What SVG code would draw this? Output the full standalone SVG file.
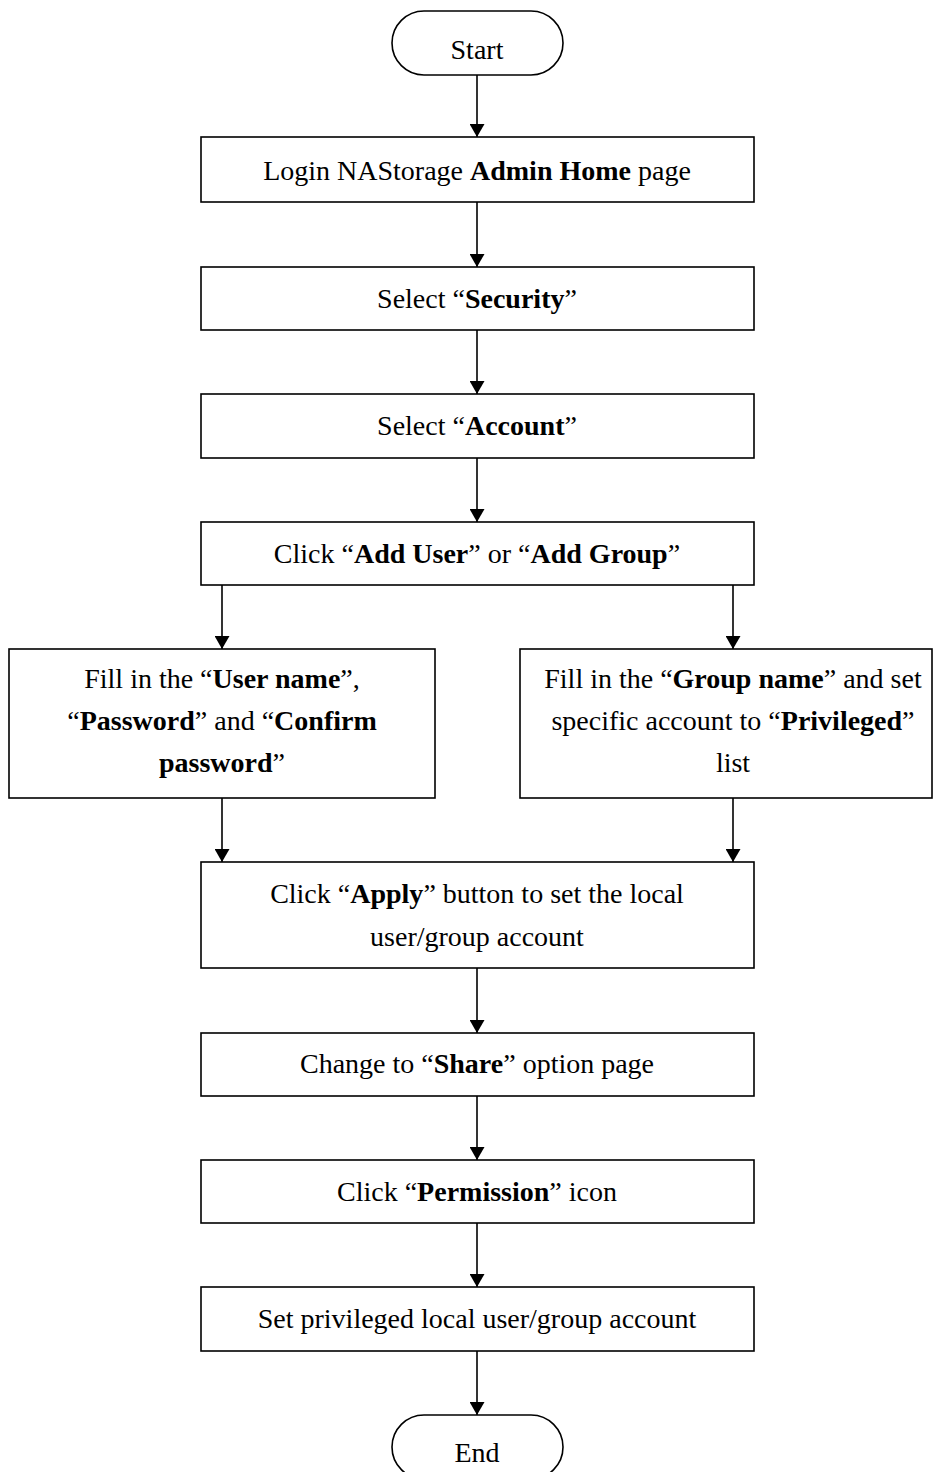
<svg xmlns="http://www.w3.org/2000/svg" width="933" height="1472" viewBox="0 0 933 1472">
  <style>
    .box { fill: #fff; stroke: #000; stroke-width: 1.6; }
    .txt { font-family: "Liberation Serif", "Times New Roman", serif; font-size: 28px; fill: #000; text-anchor: middle; }
    .b { font-weight: bold; }
    .conn { stroke: #000; stroke-width: 1.6; fill: none; marker-end: url(#arrow); }
  </style>
  <defs>
    <marker id="arrow" markerWidth="13" markerHeight="15" refX="13" refY="7.5" orient="auto" markerUnits="userSpaceOnUse" viewBox="0 0 13 15">
      <path d="M0,0 L13,7.5 L0,15 Z" fill="#000"/>
    </marker>
  </defs>
  <rect width="933" height="1472" fill="#fff"/>

  <g id="connectors">
    <line class="conn" x1="477" y1="75" x2="477" y2="137"/>
    <line class="conn" x1="477" y1="202" x2="477" y2="267"/>
    <line class="conn" x1="477" y1="330" x2="477" y2="394"/>
    <line class="conn" x1="477" y1="458" x2="477" y2="522"/>
    <line class="conn" x1="222" y1="585" x2="222" y2="649"/>
    <line class="conn" x1="733" y1="585" x2="733" y2="649"/>
    <line class="conn" x1="222" y1="798" x2="222" y2="862"/>
    <line class="conn" x1="733" y1="798" x2="733" y2="862"/>
    <line class="conn" x1="477" y1="968" x2="477" y2="1033"/>
    <line class="conn" x1="477" y1="1096" x2="477" y2="1160"/>
    <line class="conn" x1="477" y1="1223" x2="477" y2="1287"/>
    <line class="conn" x1="477" y1="1351" x2="477" y2="1415"/>
  </g>

  <g id="start">
    <rect class="box" x="392" y="11" width="171" height="64" rx="32" ry="32"/>
    <text class="txt" x="477" y="59">Start</text>
  </g>

  <g id="login">
    <rect class="box" x="201" y="137" width="553" height="65"/>
    <text class="txt" x="477" y="180">Login NAStorage <tspan class="b">Admin Home</tspan> page</text>
  </g>

  <g id="security">
    <rect class="box" x="201" y="267" width="553" height="63"/>
    <text class="txt" x="477" y="308">Select “<tspan class="b">Security</tspan>”</text>
  </g>

  <g id="account">
    <rect class="box" x="201" y="394" width="553" height="64"/>
    <text class="txt" x="477" y="435">Select “<tspan class="b">Account</tspan>”</text>
  </g>

  <g id="add">
    <rect class="box" x="201" y="522" width="553" height="63"/>
    <text class="txt" x="477" y="563">Click “<tspan class="b">Add User</tspan>” or “<tspan class="b">Add Group</tspan>”</text>
  </g>

  <g id="user-fill">
    <rect class="box" x="9" y="649" width="426" height="149"/>
    <text class="txt" x="222" y="688">Fill in the “<tspan class="b">User name</tspan>”,</text>
    <text class="txt" x="222" y="730">“<tspan class="b">Password</tspan>” and “<tspan class="b">Confirm</tspan></text>
    <text class="txt" x="222" y="772"><tspan class="b">password</tspan>”</text>
  </g>

  <g id="group-fill">
    <rect class="box" x="520" y="649" width="412" height="149"/>
    <text class="txt" x="733" y="688">Fill in the “<tspan class="b">Group name</tspan>” and set</text>
    <text class="txt" x="733" y="730">specific account to “<tspan class="b">Privileged</tspan>”</text>
    <text class="txt" x="733" y="772">list</text>
  </g>

  <g id="apply">
    <rect class="box" x="201" y="862" width="553" height="106"/>
    <text class="txt" x="477" y="903">Click “<tspan class="b">Apply</tspan>” button to set the local</text>
    <text class="txt" x="477" y="946">user/group account</text>
  </g>

  <g id="share">
    <rect class="box" x="201" y="1033" width="553" height="63"/>
    <text class="txt" x="477" y="1073">Change to “<tspan class="b">Share</tspan>” option page</text>
  </g>

  <g id="permission">
    <rect class="box" x="201" y="1160" width="553" height="63"/>
    <text class="txt" x="477" y="1201">Click “<tspan class="b">Permission</tspan>” icon</text>
  </g>

  <g id="set-privileged">
    <rect class="box" x="201" y="1287" width="553" height="64"/>
    <text class="txt" x="477" y="1328">Set privileged local user/group account</text>
  </g>

  <g id="end">
    <rect class="box" x="392" y="1415" width="171" height="64" rx="32" ry="32"/>
    <text class="txt" x="477" y="1462">End</text>
  </g>
</svg>
